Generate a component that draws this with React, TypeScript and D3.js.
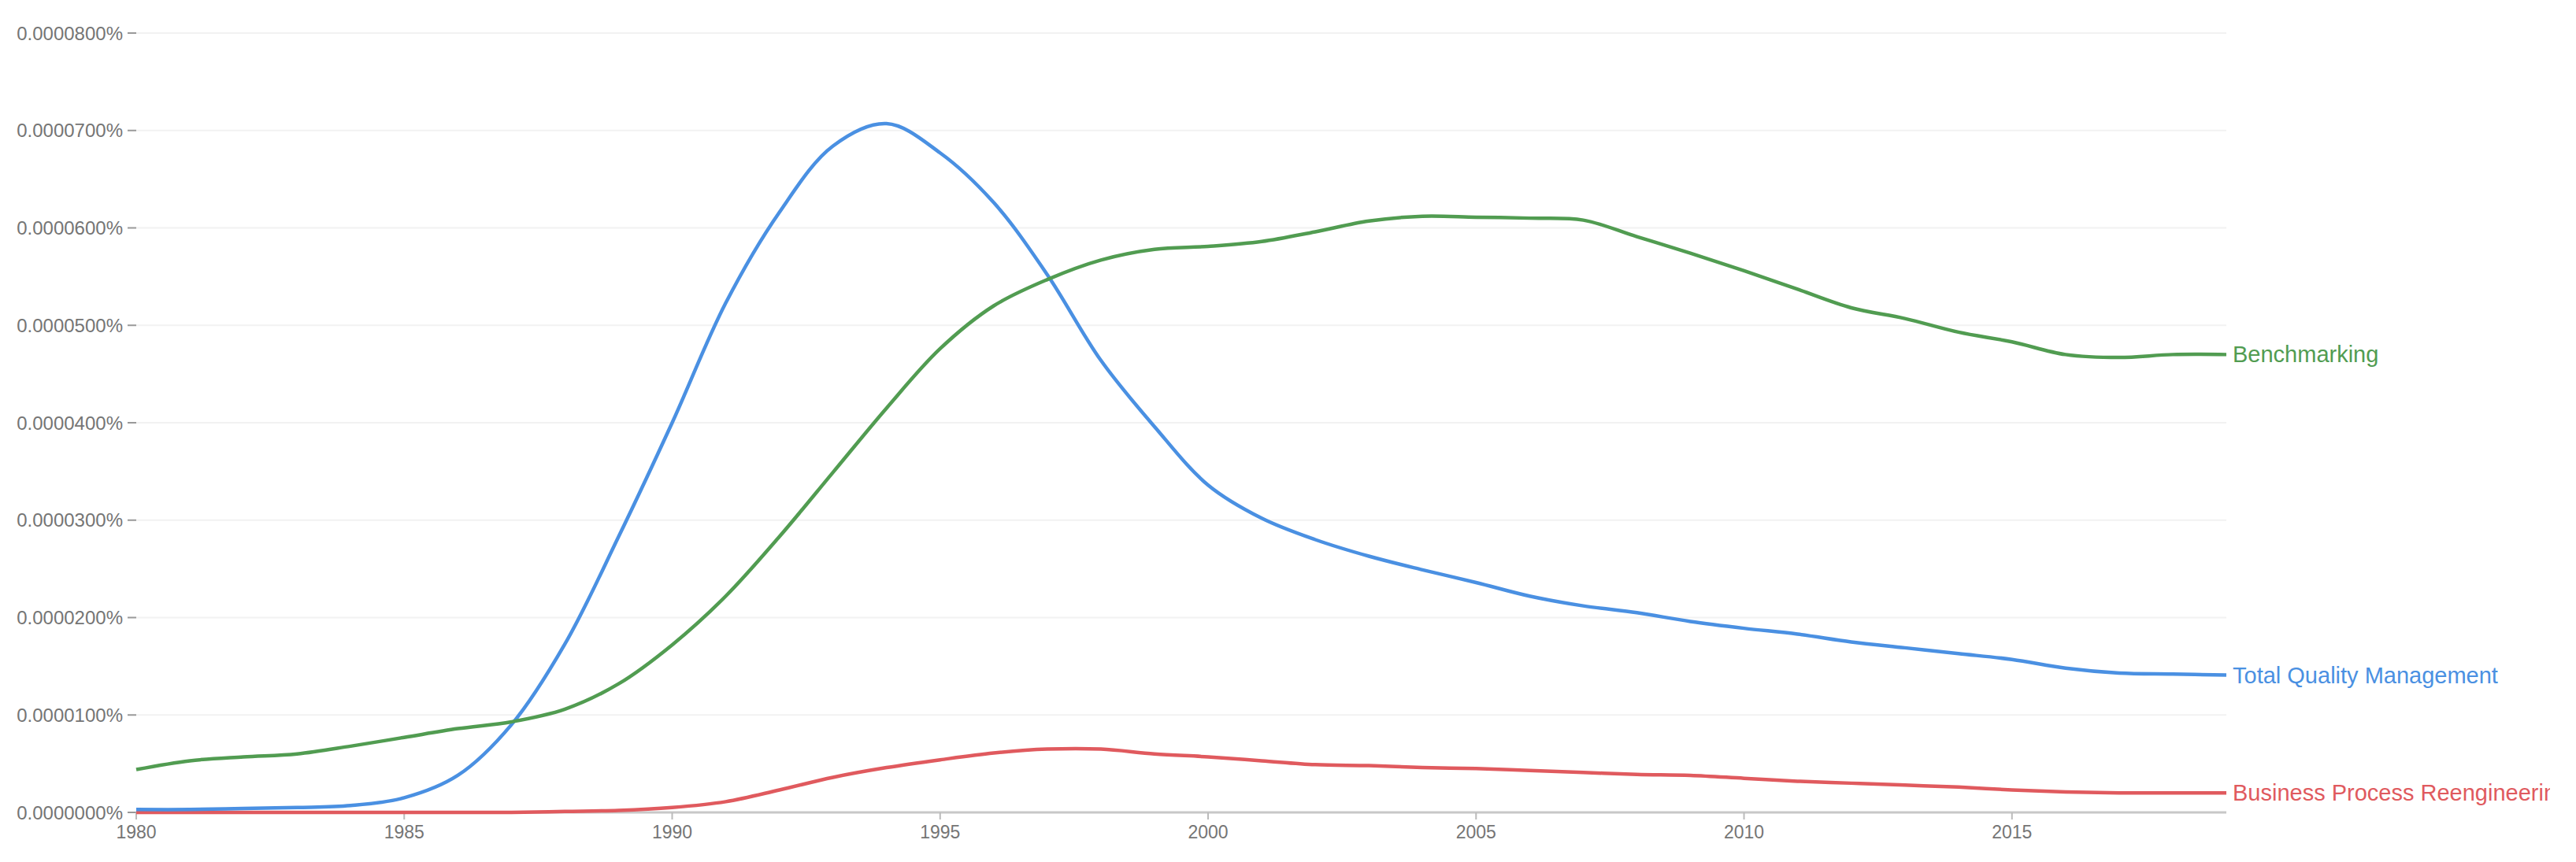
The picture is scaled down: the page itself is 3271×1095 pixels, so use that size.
import React, { useEffect, useRef } from "react";
import * as d3 from "d3";

// values in units of 0.0000001 %
const years = d3.range(1980, 2020);
const benchmarking = [44, 53, 57, 60, 68, 77, 86, 93, 106, 132, 172, 222, 283, 349, 415, 476, 520, 547, 567, 578, 581, 586, 596, 607, 612, 611, 610, 608, 591, 574, 556, 537, 518, 507, 493, 483, 470, 467, 470, 470];
const tqm = [3, 3, 4, 5, 7, 15, 38, 90, 173, 283, 400, 523, 616, 684, 707, 677, 626, 552, 464, 396, 336, 302, 280, 263, 249, 236, 222, 212, 205, 196, 189, 183, 175, 169, 163, 157, 148, 143, 142, 141];
const bpr = [0, 0, 0, 0, 0, 0, 0, 0, 1, 2, 5, 11, 23, 36, 46, 54, 61, 65, 65, 60, 57, 53, 49, 48, 46, 45, 43, 41, 39, 38, 35, 32, 30, 28, 26, 23, 21, 20, 20, 20];
const seriesNames = ["Business Process Reengineering", "Total Quality Management", "Benchmarking"];
const seriesColors = ["#e05a5e", "#4a90e2", "#519c51"];
const yTicks = [0, 100, 200, 300, 400, 500, 600, 700, 800];
const xTicks = [1980, 1985, 1990, 1995, 2000, 2005, 2010, 2015];

export default function App() {
  const ref = useRef<SVGSVGElement>(null);
  useEffect(() => {
    const svg = d3.select(ref.current);
    svg.selectAll("*").remove();
    const W = 3271, H = 1095;
    const x = d3.scaleLinear().domain([1980, 2019]).range([173, 2827]);
    const y = d3.scaleLinear().domain([0, 800]).range([1032, 42]);
    const font = "'Liberation Sans', Arial, sans-serif";

    svg.append("rect").attr("width", W).attr("height", H).attr("fill", "#fff");

    // gridlines
    svg.append("g").selectAll("line").data(yTicks.filter(t => t > 0)).join("line")
      .attr("x1", x(1980)).attr("x2", x(2019))
      .attr("y1", d => y(d)).attr("y2", d => y(d))
      .attr("stroke", "#f2f2f2").attr("stroke-width", 2);

    // y tick dashes + labels
    const yg = svg.append("g");
    yg.selectAll("line").data(yTicks).join("line")
      .attr("x1", 162).attr("x2", 173)
      .attr("y1", d => y(d)).attr("y2", d => y(d))
      .attr("stroke", "#999").attr("stroke-width", 2);
    yg.selectAll("text").data(yTicks).join("text")
      .attr("x", 156).attr("y", d => y(d))
      .attr("text-anchor", "end").attr("dominant-baseline", "central")
      .attr("font-family", font).attr("font-size", 24).attr("fill", "#757575")
      .text(d => (d * 1e-7).toFixed(7) + "%");

    // baseline axis
    svg.append("line").attr("x1", x(1980)).attr("x2", x(2019))
      .attr("y1", y(0)).attr("y2", y(0)).attr("stroke", "#c8c8c8").attr("stroke-width", 3);
    const xg = svg.append("g");
    xg.selectAll("line").data(xTicks).join("line")
      .attr("x1", d => x(d)).attr("x2", d => x(d))
      .attr("y1", y(0)).attr("y2", y(0) + 9)
      .attr("stroke", "#bbb").attr("stroke-width", 2);
    xg.selectAll("text").data(xTicks).join("text")
      .attr("x", d => x(d)).attr("y", 1057)
      .attr("text-anchor", "middle").attr("dominant-baseline", "central")
      .attr("font-family", font).attr("font-size", 23).attr("fill", "#757575")
      .text(d => String(d));

    const all = [bpr, tqm, benchmarking];
    const line = d3.line<number>()
      .x((_, i) => x(years[i]))
      .y(d => y(d))
      .curve(d3.curveCatmullRom.alpha(0.5));

    const defs = svg.append("defs");
    defs.append("clipPath").attr("id", "lblclip").append("rect")
      .attr("x", 0).attr("y", 0).attr("width", 3238).attr("height", H);

    all.forEach((vals, k) => {
      svg.append("path").attr("d", line(vals) as string)
        .attr("fill", "none").attr("stroke", seriesColors[k])
        .attr("stroke-width", 4.5).attr("stroke-linejoin", "round");
    });
    all.forEach((vals, k) => {
      svg.append("text")
        .attr("x", x(2019) + 8).attr("y", y(vals[vals.length - 1]))
        .attr("dominant-baseline", "central")
        .attr("clip-path", "url(#lblclip)")
        .attr("font-family", font).attr("font-size", 29).attr("fill", seriesColors[k])
        .text(seriesNames[k]);
    });
  }, []);
  return (
    <svg ref={ref} width={3271} height={1095}
      style={{ position: "absolute", left: 0, top: 0, display: "block" }} />
  );
}
